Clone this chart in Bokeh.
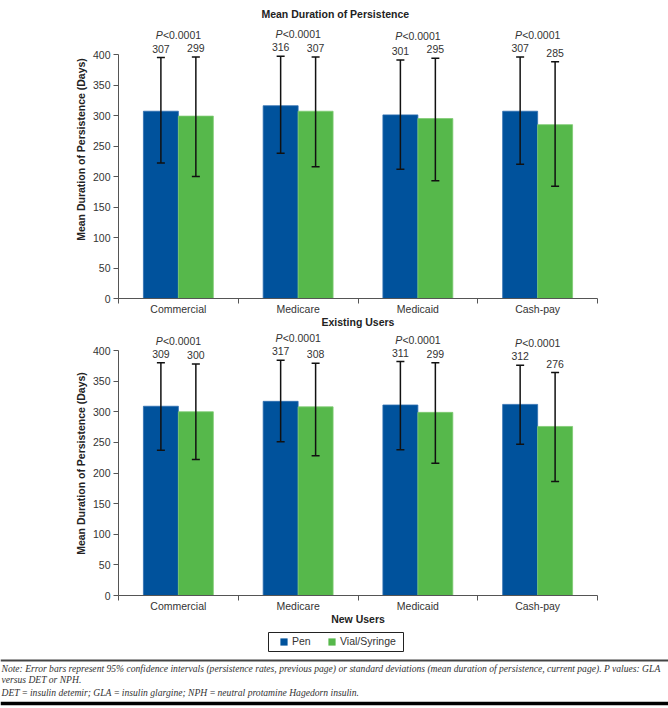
from bokeh.plotting import figure
from bokeh.models import (ColumnDataSource, Whisker, TeeHead, FixedTicker, CustomJSTickFormatter,
                          Range1d, Label, Legend, Span, BoxAnnotation)
from bokeh.layouts import column
from bokeh.core.properties import value
from bokeh.embed import file_html
from bokeh.resources import INLINE

# ---------------- data ----------------
categories = ["Commercial", "Medicare", "Medicaid", "Cash-pay"]
series_names = ["Pen", "Vial/Syringe"]

existing_pen = [307, 316, 301, 307]
existing_pen_lower = [222, 238, 212, 220]
existing_pen_upper = [395, 397, 391, 396]
existing_vial = [299, 307, 295, 285]
existing_vial_lower = [200, 216, 193, 184]
existing_vial_upper = [396, 396, 394, 388]

new_pen = [309, 317, 311, 312]
new_pen_lower = [237, 251, 238, 247]
new_pen_upper = [380, 384, 382, 376]
new_vial = [300, 308, 299, 276]
new_vial_lower = [222, 228, 216, 186]
new_vial_upper = [378, 379, 380, 364]

p_values = ["<0.0001", "<0.0001", "<0.0001", "<0.0001"]
y_ticks = [0, 50, 100, 150, 200, 250, 300, 350, 400]

title_text = "Mean Duration of Persistence"
y_label = "Mean Duration of Persistence (Days)"
notes = [
    "Note: Error bars represent 95% confidence intervals (persistence rates, previous page) or standard deviations (mean duration of persistence, current page). P values: GLA",
    "versus DET or NPH.",
    "DET\u2009=\u2009insulin detemir; GLA\u2009=\u2009insulin glargine; NPH\u2009=\u2009neutral protamine Hagedorn insulin.",
]

# ---------------- style ----------------
FONT = "Liberation Sans"
BLUE = "#00529C"
GREEN = "#56B84B"
COLORS = [BLUE, GREEN]
AXIS = "#555555"
TXT = "#333333"
FS = "10.5px"
BAR_W = 0.292
W = 668


def chart(pen, pen_lo, pen_hi, vial, vial_lo, vial_hi, frame_h, px_per_unit,
          border_bottom, xlabel, title=None):
    y_top = frame_h / px_per_unit
    p = figure(width=W, height=frame_h + border_bottom,
               x_range=Range1d(0, len(categories)), y_range=Range1d(0, y_top),
               output_backend="svg", toolbar_location=None,
               min_border_left=118, min_border_right=71,
               min_border_top=0, min_border_bottom=border_bottom)
    p.outline_line_color = None
    p.xgrid.grid_line_color = None
    p.ygrid.grid_line_color = None

    centers = [i + 0.5 for i in range(len(categories))]
    src_pen = ColumnDataSource(dict(
        x=[c - BAR_W / 2 for c in centers], top=pen, lower=pen_lo, upper=pen_hi,
        label=[str(v) for v in pen]))
    src_vial = ColumnDataSource(dict(
        x=[c + BAR_W / 2 for c in centers], top=vial, lower=vial_lo, upper=vial_hi,
        label=[str(v) for v in vial]))

    p.vbar(x="x", top="top", width=BAR_W, source=src_pen,
           fill_color=BLUE, line_color="#2f6fb0", line_width=0.8)
    p.vbar(x="x", top="top", width=BAR_W, source=src_vial,
           fill_color=GREEN, line_color="#7fcc72", line_width=0.8)

    for src in (src_pen, src_vial):
        w = Whisker(base="x", upper="upper", lower="lower", source=src,
                    line_color="#111111", line_width=1.5, level="annotation",
                    upper_head=TeeHead(size=8, line_width=1.5, line_color="#111111"),
                    lower_head=TeeHead(size=8, line_width=1.5, line_color="#111111"))
        p.add_layout(w)
        p.text(x="x", y="upper", text="label", source=src, y_offset=-9,
               text_align="center", text_baseline="middle",
               text_font=value(FONT), text_font_size=FS, text_color=TXT)

    src_p = ColumnDataSource(dict(
        x=centers, y=[max(a, b) for a, b in zip(pen_hi, vial_hi)], t=p_values,
        P=["P"] * len(centers)))
    p.text(x="x", y="y", text="P", source=src_p, x_offset=-15.5, y_offset=-22,
           text_align="right", text_baseline="middle", text_font=value(FONT),
           text_font_style="italic", text_font_size=FS, text_color=TXT)
    p.text(x="x", y="y", text="t", source=src_p, x_offset=-15.5, y_offset=-22,
           text_align="left", text_baseline="middle", text_font=value(FONT),
           text_font_size=FS, text_color=TXT)

    if title:
        p.add_layout(Label(x=1.81, y=y_top - 13 / px_per_unit, text=title,
                           text_align="center", text_baseline="middle",
                           text_font=FONT, text_font_style="bold",
                           text_font_size=FS, text_color="#222222"))

    # axes
    xa = p.xaxis[0]
    xa.ticker = FixedTicker(ticks=centers, minor_ticks=list(range(len(categories) + 1)))
    xa.formatter = CustomJSTickFormatter(args=dict(names=categories),
                                         code="return names[Math.floor(tick)]")
    xa.major_tick_out = 0
    xa.major_tick_in = 0
    xa.minor_tick_out = 5
    xa.minor_tick_in = 0
    xa.minor_tick_line_color = AXIS
    xa.axis_line_color = AXIS
    xa.major_label_standoff = -1
    xa.major_label_text_font = FONT
    xa.major_label_text_font_size = FS
    xa.major_label_text_color = TXT
    xa.axis_label = xlabel
    xa.axis_label_standoff = -2
    xa.axis_label_text_font = FONT
    xa.axis_label_text_font_style = "bold"
    xa.axis_label_text_font_size = FS
    xa.axis_label_text_color = "#222222"

    ya = p.yaxis[0]
    ya.ticker = FixedTicker(ticks=y_ticks, minor_ticks=[])
    ya.bounds = (y_ticks[0], y_ticks[-1])
    ya.major_tick_out = 5
    ya.major_tick_in = 0
    ya.minor_tick_line_color = None
    ya.major_tick_line_color = AXIS
    ya.axis_line_color = AXIS
    ya.major_label_standoff = 3
    ya.major_label_text_font = FONT
    ya.major_label_text_font_size = FS
    ya.major_label_text_color = TXT
    ya.axis_label = y_label
    ya.axis_label_standoff = 3
    ya.axis_label_text_font = FONT
    ya.axis_label_text_font_style = "bold"
    ya.axis_label_text_font_size = FS
    ya.axis_label_text_color = "#222222"
    return p, (src_pen, src_vial)


top, _ = chart(existing_pen, existing_pen_lower, existing_pen_upper,
               existing_vial, existing_vial_lower, existing_vial_upper,
               frame_h=298, px_per_unit=0.61, border_bottom=33,
               xlabel="Existing Users", title=title_text)
bottom, bottom_sources = chart(new_pen, new_pen_lower, new_pen_upper,
                               new_vial, new_vial_lower, new_vial_upper,
                               frame_h=264, px_per_unit=0.6125, border_bottom=33,
                               xlabel="New Users")

# footer: legend + notes
FH = 80
foot = figure(width=W, height=FH, x_range=Range1d(0, W), y_range=Range1d(FH, 0),
              output_backend="svg", toolbar_location=None, min_border=0,
              x_axis_location=None, y_axis_location=None)
foot.outline_line_color = None
foot.xgrid.grid_line_color = None
foot.ygrid.grid_line_color = None

# legend entries: hidden copies of the New Users series renderers (same data and style)
legend_items = []
for name, col, src in zip(series_names, COLORS, bottom_sources):
    r = foot.vbar(x="x", top="top", width=BAR_W, source=src,
                  fill_color=col, line_color=None, visible=False)
    legend_items.append((name, [r]))
lg = Legend(items=legend_items, orientation="horizontal", location=(279, 61),
            border_line_color=None, padding=5, spacing=15, margin=0,
            glyph_width=9, glyph_height=9, label_height=9,
            label_standoff=4, label_text_font=FONT,
            label_text_font_size=FS, label_text_color=TXT,
            inactive_fill_alpha=0, click_policy="none",
            background_fill_alpha=0)
foot.add_layout(lg)
# legend frame
foot.add_layout(BoxAnnotation(left=268, right=403, top=4, bottom=23,
                              fill_alpha=0, line_color="#222222", line_width=1,
                              line_alpha=1))

foot.add_layout(Span(location=32, dimension="width", line_color="#444444", line_width=2))
foot.add_layout(Span(location=75, dimension="width", line_color="#000000", line_width=3.5))
foot.text(x=[1, 1, 1], y=[40, 51, 64], text=notes, text_baseline="middle",
          text_font=value("Liberation Serif"), text_font_style="italic",
          text_font_size="9.6px", text_color="#333333")

layout = column(column(top, bottom, spacing=0), foot, spacing=0)
open("out.html", "w").write(file_html(layout, INLINE))
